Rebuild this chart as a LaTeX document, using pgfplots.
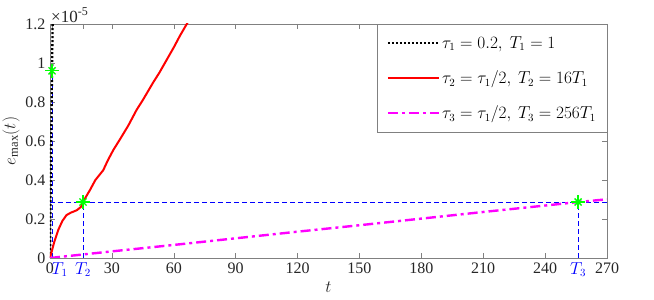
\documentclass[border=0pt]{standalone}
\usepackage{pgfplots}
\pgfplotsset{compat=1.18}
\usepackage{fontspec}
\setmainfont{Liberation Serif}
\definecolor{axgray}{RGB}{128,128,128}
\definecolor{txtgray}{RGB}{38,38,38}
\definecolor{mag}{RGB}{255,0,255}
\definecolor{grn}{RGB}{0,255,0}
\definecolor{blu}{RGB}{0,0,255}
\definecolor{rd}{RGB}{255,0,0}
\begin{document}
\begin{tikzpicture}
\begin{axis}[
  name=ax,
  scale only axis,
  width=557pt, height=234pt,
  xmin=0, xmax=270, ymin=0, ymax=1.2,
  axis line style={axgray},
  every tick/.style={axgray},
  tick align=inside,
  major tick length=5pt,
  xtick={0,1,16,30,60,90,120,150,180,210,240,256,270},
  xticklabels={0,{\hspace{15pt}\color{blu}$T_1$},{\color{blu}$T_2$},30,60,90,120,150,180,210,240,{\color{blu}$T_3$},270},
  ytick={0,0.2,0.4,0.6,0.8,1,1.2},
  yticklabels={0,0.2,0.4,0.6,0.8,1,1.2},
  scaled ticks=false,
  /pgf/number format/assume math mode=true,
  tick label style={font=\fontsize{16}{18}\selectfont, txtgray},
  xticklabel style={yshift=-1pt},
  yticklabel style={xshift=-1pt},
  xlabel={$t$},
  ylabel={$e_{\max}(t)$},
  label style={font=\fontsize{18}{20}\selectfont, txtgray},
  xlabel style={yshift=2pt},
  ylabel style={yshift=-1pt},
  legend cell align=left,
  legend style={at={(rel axis cs:1,1)}, anchor=north east, draw=axgray, fill=white,
    font=\fontsize{16}{18}\selectfont, row sep=17pt, inner xsep=9pt, inner ysep=10pt},
  legend image code/.code={\draw[#1] (0pt,0pt) -- (51pt,0pt);},
  clip=true,
]
% blue dashed guide lines
\addplot[blu, dash pattern=on 5pt off 3pt, line width=0.9pt, forget plot] coordinates {(0,0.287) (270,0.287)};
\addplot[blu, dash pattern=on 5pt off 3pt, line width=0.9pt, forget plot] coordinates {(1,0) (1,0.96)};
\addplot[blu, dash pattern=on 5pt off 3pt, line width=0.9pt, forget plot] coordinates {(16,0) (16,0.287)};
\addplot[blu, dash pattern=on 5pt off 3pt, line width=0.9pt, forget plot] coordinates {(256,0) (256,0.287)};
% curves
\addplot[black, dash pattern=on 2pt off 2pt, line width=2.3pt] coordinates {
(0,0) (0.25,0.28) (0.5,0.53) (0.75,0.76) (1,0.96) (1.25,1.18) (1.4,1.32)};
\addlegendentry{$\tau_1=0.2,\ T_1=1$}
\addplot[rd, line width=2pt] coordinates {
(0,0) (1,0.04) (2,0.08) (4,0.144) (6,0.19) (8,0.22) (10,0.232) (13,0.245) (15,0.262) (16,0.287)
(17.5,0.315) (19.4,0.349) (22,0.40) (25.8,0.45) (28,0.50) (30.7,0.554)
(34,0.61) (38,0.68) (42,0.76) (45,0.81) (50,0.90) (53,0.95) (56.5,1.015)
(60,1.08) (63,1.14) (66.3,1.2) (68,1.23)};
\addlegendentry{$\tau_2=\tau_1/2,\ T_2=16T_1$}
\addplot[mag, dash pattern=on 10pt off 4pt on 3pt off 4pt, line width=2.4pt] coordinates {
(0,0) (30,0.034) (60,0.067) (90,0.101) (120,0.135) (150,0.168) (180,0.202) (210,0.236) (240,0.269) (256,0.287) (270,0.301)};
\addlegendentry{$\tau_3=\tau_1/2,\ T_3=256T_1$}
% green star markers
\addplot[only marks, grn, mark=+, mark size=7pt, line width=1.3pt, forget plot] coordinates {(1,0.96) (16,0.287) (256,0.287)};
\addplot[only marks, grn, mark=x, mark size=5pt, line width=1.3pt, forget plot] coordinates {(1,0.96) (16,0.287) (256,0.287)};
\end{axis}
\node[anchor=south west, font=\fontsize{17}{19}\selectfont, txtgray, inner sep=0pt] at ([xshift=1pt,yshift=1pt]ax.north west) {×10\raisebox{0.85ex}{\fontsize{12}{13}\selectfont -5}};
\pgfresetboundingbox
\useasboundingbox ([xshift=-50pt,yshift=-42pt]ax.south west) rectangle ([xshift=47pt,yshift=24pt]ax.north east);
\end{tikzpicture}
\end{document}
